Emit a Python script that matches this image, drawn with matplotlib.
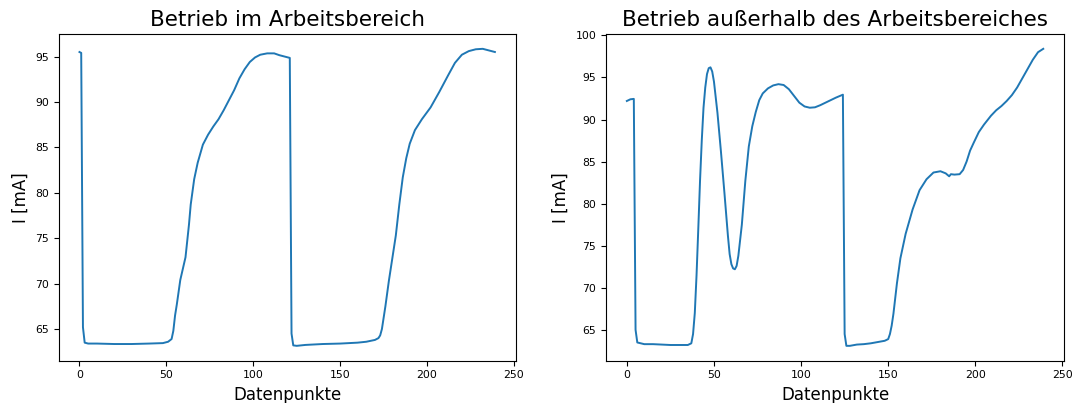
import matplotlib
matplotlib.use('Agg')
import matplotlib.pyplot as plt

# Betrieb im Arbeitsbereich
x_in = [0, 1, 2, 3, 5, 10, 20, 30, 40, 48, 51, 53, 54, 55, 56, 58, 61, 63, 64, 66,
        68, 71, 74, 77, 80, 83, 86, 89, 92, 95, 98, 101, 104, 108, 112, 115, 118, 121,
        122, 123, 125, 130, 140, 150, 160, 165, 170, 172, 173, 174, 176, 178, 180, 182,
        184, 186, 188, 190, 193, 197, 202, 207, 212, 216, 220, 224, 228, 232, 235, 239]
i_in = [95.5, 95.4, 65.2, 63.5, 63.4, 63.4, 63.35, 63.35, 63.4, 63.45, 63.6, 63.9, 64.8,
        66.5, 67.7, 70.4, 72.9, 76.5, 78.7, 81.5, 83.3, 85.3, 86.4, 87.3, 88.1, 89.1, 90.2,
        91.3, 92.6, 93.6, 94.4, 94.9, 95.2, 95.35, 95.35, 95.15, 95.0, 94.85,
        64.5, 63.2, 63.15, 63.25, 63.35, 63.4, 63.5, 63.6, 63.8, 64.0, 64.3, 65.0, 67.5,
        70.3, 72.8, 75.3, 78.7, 81.7, 83.8, 85.4, 86.9, 88.1, 89.4, 91.1, 92.9, 94.3, 95.2,
        95.6, 95.8, 95.85, 95.7, 95.5]

# Betrieb ausserhalb des Arbeitsbereiches
x_out = [0, 1, 2, 4, 5, 6, 10, 15, 20, 25, 30, 35, 37, 38, 39, 40, 41, 42, 43, 44, 45, 46,
         47, 48, 49, 50, 52, 54, 56, 58, 59, 60, 61, 62, 63, 64, 66, 68, 70, 72, 74, 76, 78,
         81, 84, 87, 90, 93, 96, 99, 102, 105, 108, 111, 114, 117, 120, 124,
         125, 126, 128, 132, 136, 140, 144, 148, 150, 151, 152, 153, 155, 157, 160, 164,
         168, 172, 176, 180, 183, 185, 186, 188, 191, 193, 195, 197, 199, 202, 205, 209,
         212, 215, 218, 221, 224, 227, 230, 233, 236, 239]
i_out = [92.2, 92.3, 92.4, 92.45, 65.0, 63.5, 63.3, 63.3, 63.25, 63.2, 63.2, 63.2, 63.4,
         64.5, 67.0, 71.5, 77.0, 82.7, 87.5, 91.4, 93.8, 95.4, 96.1, 96.2, 95.7, 94.5, 90.8,
         86.2, 81.3, 76.2, 74.0, 72.8, 72.3, 72.2, 72.6, 73.8, 77.5, 82.7, 86.8, 89.2, 90.9,
         92.3, 93.1, 93.7, 94.05, 94.2, 94.1, 93.6, 92.8, 92.0, 91.55, 91.4, 91.45, 91.7,
         92.0, 92.3, 92.6, 92.95,
         64.5, 63.1, 63.1, 63.25, 63.3, 63.4, 63.55, 63.7, 63.9, 64.5, 65.5, 66.9, 70.5,
         73.5, 76.4, 79.3, 81.6, 82.9, 83.7, 83.85, 83.6, 83.25, 83.5, 83.45, 83.5, 84.0,
         85.0, 86.3, 87.2, 88.5, 89.4, 90.45, 91.1, 91.6, 92.2, 92.9, 93.8, 94.9, 96.0,
         97.1, 98.0, 98.4]

titles = ['Betrieb im Arbeitsbereich', 'Betrieb außerhalb des Arbeitsbereiches']

fig = plt.figure(figsize=(10.77, 4.03), dpi=100)
ax1 = fig.add_axes([0.0545, 0.105, 0.4243, 0.8107])
ax2 = fig.add_axes([0.5627, 0.105, 0.4253, 0.8107])

for ax, xs, ys, t in [(ax1, x_in, i_in, titles[0]), (ax2, x_out, i_out, titles[1])]:
    ax.plot(xs, ys, color='#1f77b4', lw=1.4)
    ax.set_xlim(-11.95, 250.95)
    ax.set_title(t, fontsize=15.5)
    ax.set_xlabel('Datenpunkte', fontsize=12)
    ax.set_ylabel('I [mA]', fontsize=12)
    ax.tick_params(labelsize=7.8)
    ax.set_xticks([0, 50, 100, 150, 200, 250])

ax2.set_yticks([65, 70, 75, 80, 85, 90, 95, 100])

fig.savefig('out.png', dpi=100)
